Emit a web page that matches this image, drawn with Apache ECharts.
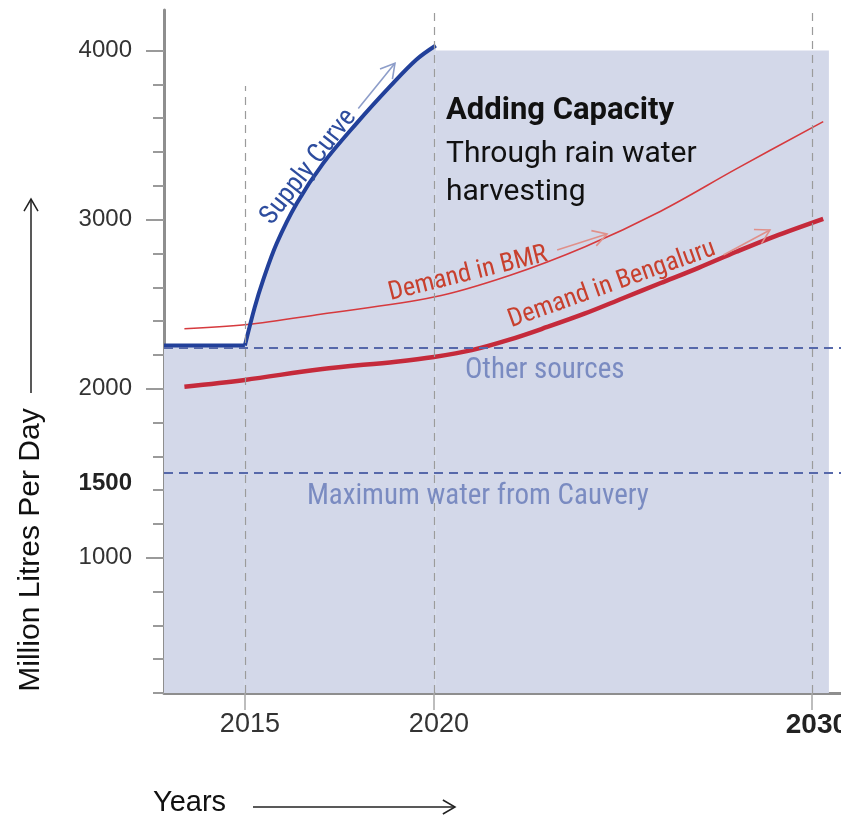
<!DOCTYPE html>
<html>
<head>
<meta charset="utf-8">
<script src="https://cdn.jsdelivr.net/npm/echarts@6/dist/echarts.min.js"></script>
<style>
  html, body { margin: 0; padding: 0; background: #ffffff; overflow: hidden; }
  #chart { width: 841px; height: 818px; }
</style>
</head>
<body>
<div id="chart"></div>
<script>
// ---- axis ticks and labels ----
const xTicks = [2015, 2020, 2030];
const yMinorTicks = [200, 400, 600, 800, 1000, 1200, 1400, 1600, 1800, 2000,
                     2200, 2400, 2600, 2800, 3000, 3200, 3400, 3600, 3800, 4000];
const yMajorTicks = [1000, 2000, 3000, 4000];
const yLabels = [1000, 1500, 2000, 3000, 4000];

// ---- water supply (million litres per day) ----
const supplyFlat = [[2012.86, 2255], [2015, 2255]];
const supplyRise = [[2015, 2255], [2015.26, 2482], [2015.48, 2641], [2015.84, 2859],
                    [2016.37, 3096], [2017.07, 3333], [2017.96, 3571], [2018.84, 3788],
                    [2019.54, 3947], [2020.05, 4030]];
const capacityLevel = [[2020.05, 4000], [2030.45, 4000]];

// ---- demand (million litres per day) ----
const demandBMR = [[2013.4, 2355], [2015, 2378], [2017, 2440], [2020, 2542], [2022, 2670],
                   [2024, 2840], [2026, 3050], [2028, 3300], [2030.3, 3580]];
const demandBengaluru = [[2013.4, 2012], [2015, 2052], [2017, 2115], [2019, 2160], [2020, 2188],
                         [2021, 2228], [2022, 2290], [2023, 2365], [2024, 2445], [2025, 2535],
                         [2026, 2625], [2027, 2715], [2028, 2810], [2029, 2900], [2030.3, 3005]];

// ---- reference levels ----
const otherSourcesLevel = 2240;
const cauveryMaxLevel = 1500;

// ---- styling ----
const SANS = "'Liberation Sans', Helvetica, Arial, sans-serif";
const NARROW = "'Liberation Sans Narrow', 'Arial Narrow', 'Roboto Condensed', sans-serif";
const TITLE = "Roboto, 'Liberation Sans', sans-serif";
const SHADE = '#d3d8e9';
const BLUE = '#22409a';
const DASH_BLUE = '#5668aa';
const RED_THIN = '#d63a3e';
const RED_THICK = '#c52a3b';
const RED_TEXT = '#c8402e';
const SOFT_BLUE_TEXT = '#7a8bc1';

const xMin = 2012.86, xMax = 2030.77, yMin = 200, yMax = 4240;

const chart = echarts.init(document.getElementById('chart'), null, { renderer: 'canvas', width: 841, height: 818 });

const areaSeries = (data, smooth) => ({
  type: 'line', data, smooth, symbol: 'none', silent: true,
  lineStyle: { width: 0 }, areaStyle: { color: SHADE, opacity: 1, origin: 'start' }, z: 1
});
const lineSeries = (data, smooth, color, width, z) => ({
  type: 'line', data, smooth, symbol: 'none', silent: true,
  lineStyle: { color, width, cap: 'butt' }, z
});

chart.setOption({
  animation: false,
  grid: { left: 164, right: 0, top: 10, bottom: 125, containLabel: false, outerBoundsMode: 'none' },
  xAxis: {
    type: 'value', min: xMin, max: xMax,
    axisLine: { show: true, onZero: false, lineStyle: { color: '#8e8e8e', width: 3 } },
    axisTick: { show: true, customValues: xTicks, length: 17, lineStyle: { color: '#a8a8a8', width: 1.5 } },
    axisLabel: {
      customValues: xTicks, margin: 18, fontSize: 27, color: '#333', fontFamily: SANS,
      padding: [0, 0, 0, 10], hideOverlap: false,
      formatter: v => (v === 2030 ? '{b|2030}' : String(v)),
      rich: { b: { fontSize: 28, fontWeight: 'bold', color: '#222', fontFamily: SANS } }
    },
    splitLine: { show: false }
  },
  yAxis: [
    {
      type: 'value', min: yMin, max: yMax,
      axisLine: { show: true, lineStyle: { color: '#8e8e8e', width: 3 } },
      axisTick: { show: true, customValues: yMinorTicks, length: 11, lineStyle: { color: '#9a9a9a', width: 2 } },
      axisLabel: { show: false },
      splitLine: { show: false }
    },
    {
      type: 'value', min: yMin, max: yMax, position: 'left',
      axisLine: { show: false },
      axisTick: { show: true, customValues: yMajorTicks, length: 18, lineStyle: { color: '#9a9a9a', width: 2 } },
      axisLabel: {
        customValues: yLabels, margin: 32, fontSize: 24, color: '#333', fontFamily: SANS,
        formatter: v => (v === cauveryMaxLevel ? '{b|' + v + '}' : String(v)),
        rich: { b: { fontSize: 24, fontWeight: 'bold', color: '#222', fontFamily: SANS, padding: [20, 0, 0, 0] } }
      },
      splitLine: { show: false }
    }
  ],
  series: [
    areaSeries(supplyFlat, false),
    areaSeries(supplyRise, 0.35),
    areaSeries(capacityLevel, false),
    {
      // guide lines: year markers and water-source levels
      type: 'line', data: capacityLevel, symbol: 'none', silent: true,
      lineStyle: { width: 0 }, z: 2,
      markLine: {
        silent: true, symbol: ['none', 'none'], label: { show: false },
        data: [
          [{ coord: [2015, yMin], lineStyle: { color: '#9b9b9b', width: 1.2, type: [8, 6] } }, { coord: [2015, 3790] }],
          [{ coord: [2020, yMin], lineStyle: { color: '#9b9b9b', width: 1.2, type: [8, 6] } }, { coord: [2020, yMax] }],
          [{ coord: [2030, yMin], lineStyle: { color: '#9b9b9b', width: 1.2, type: [8, 6] } }, { coord: [2030, yMax] }],
          { yAxis: otherSourcesLevel, lineStyle: { color: DASH_BLUE, width: 2, type: [9, 6] } },
          { yAxis: cauveryMaxLevel, lineStyle: { color: DASH_BLUE, width: 2, type: [9, 6] } }
        ]
      }
    },
    lineSeries(demandBMR, 0.35, RED_THIN, 1.6, 3),
    lineSeries(demandBengaluru, 0.35, RED_THICK, 4.5, 3),
    lineSeries(supplyFlat, false, BLUE, 4, 4),
    lineSeries(supplyRise, 0.35, BLUE, 4, 4)
  ]
});

// ---- annotations anchored to data coordinates ----
const toPx = p => chart.convertToPixel({ xAxisIndex: 0, yAxisIndex: 0 }, p);
const deg = a => a * Math.PI / 180;

const curveNotes = [
  { text: 'Supply Curve', at: [2016.69, 3311], angle: 52, color: '#2d4c9e', size: 27 },
  { text: 'Demand in BMR', at: [2020.9, 2678], angle: 14, color: RED_TEXT, size: 26 },
  { text: 'Demand in Bengaluru', at: [2024.71, 2616], angle: 19.6, color: RED_TEXT, size: 26 }
];
const noteArrows = [
  { from: [2018.0, 3658], to: [2018.97, 3925], color: '#8d9dc9' },
  { from: [2023.26, 2820], to: [2024.58, 2915], color: '#e0908a' },
  { from: [2027.66, 2791], to: [2028.89, 2939], color: '#e0908a' }
];
const levelNotes = [
  { text: 'Other sources', at: [2020.82, 2108], size: 29 },
  { text: 'Maximum water from Cauvery', at: [2016.64, 1359], size: 29 }
];
const titleLines = [
  { text: 'Adding Capacity', at: [2020.32, 3640], weight: 'bold', size: 31 },
  { text: 'Through rain water', at: [2020.32, 3388], weight: 'normal', size: 30 },
  { text: 'harvesting', at: [2020.32, 3160], weight: 'normal', size: 30 }
];

function arrowShape(p0, p1, color, width, arm) {
  const ang = Math.atan2(p1[1] - p0[1], p1[0] - p0[0]);
  const a1 = ang + Math.PI - deg(30), a2 = ang + Math.PI + deg(30);
  return [
    { type: 'line', shape: { x1: p0[0], y1: p0[1], x2: p1[0], y2: p1[1] }, style: { stroke: color, lineWidth: width }, z: 20 },
    { type: 'polyline', shape: { points: [
        [p1[0] + arm * Math.cos(a1), p1[1] + arm * Math.sin(a1)], p1,
        [p1[0] + arm * Math.cos(a2), p1[1] + arm * Math.sin(a2)]] },
      style: { stroke: color, lineWidth: width, fill: null }, z: 20 }
  ];
}

const graphics = [];
curveNotes.forEach(n => {
  const p = toPx(n.at);
  graphics.push({ type: 'text', x: p[0], y: p[1], rotation: deg(n.angle), z: 20,
    style: { text: n.text, fill: n.color, fontSize: n.size, fontFamily: NARROW, align: 'center', verticalAlign: 'middle' } });
});
noteArrows.forEach(a => graphics.push(...arrowShape(toPx(a.from), toPx(a.to), a.color, 1.6, 16)));
levelNotes.forEach(n => {
  const p = toPx(n.at);
  graphics.push({ type: 'text', x: p[0], y: p[1], z: 20,
    style: { text: n.text, fill: SOFT_BLUE_TEXT, fontSize: n.size, fontFamily: NARROW, align: 'left', verticalAlign: 'middle' } });
});
titleLines.forEach(n => {
  const p = toPx(n.at);
  graphics.push({ type: 'text', x: p[0], y: p[1], z: 20,
    style: { text: n.text, fill: '#111', fontSize: n.size, fontWeight: n.weight, fontFamily: TITLE, align: 'left', verticalAlign: 'middle' } });
});

// axis titles with their direction arrows
graphics.push({ type: 'text', x: 31, y: 550, rotation: deg(90), z: 20,
  style: { text: 'Million Litres Per Day', fill: '#111', fontSize: 30, fontFamily: SANS, align: 'center', verticalAlign: 'middle' } });
graphics.push(...arrowShape([31, 393], [31, 199], '#222', 1.5, 14));
graphics.push({ type: 'text', x: 153, y: 803, z: 20,
  style: { text: 'Years', fill: '#111', fontSize: 29, fontFamily: SANS, align: 'left', verticalAlign: 'middle' } });
graphics.push(...arrowShape([253, 807], [455, 807], '#222', 1.5, 14));

chart.setOption({ graphic: { elements: graphics } });
</script>
</body>
</html>
